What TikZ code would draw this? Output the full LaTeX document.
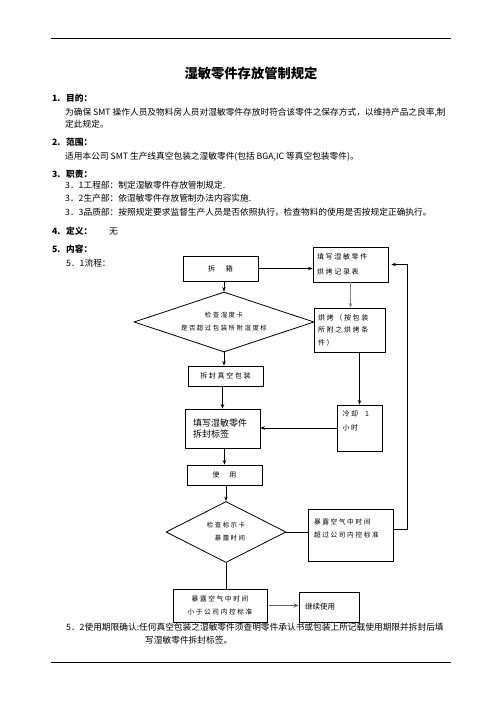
\documentclass[tikz,border=0pt]{standalone}
\usepackage{fontspec}
\setmainfont{Noto Sans CJK SC}
\newfontfamily\flowfont[LetterSpace=24]{Noto Sans CJK SC}
\newfontfamily\flowplain{Noto Sans CJK SC}
\usetikzlibrary{shapes.geometric,arrows.meta}
\begin{document}
\begin{tikzpicture}[x=1pt,y=-1pt,
  body/.style={anchor=base west,inner sep=0pt,font=\fontsize{8.7}{10}\selectfont},
  head/.style={anchor=base west,inner sep=0pt,font=\fontsize{8.7}{10}\selectfont\bfseries},
  fbox/.style={draw,line width=0.8pt,inner ysep=0pt,inner xsep=4pt,font=\flowfont\fontsize{7}{13}\selectfont},
  fdia/.style={draw,diamond,line width=0.8pt,inner sep=0pt,align=center,font=\flowfont\fontsize{6.4}{13}\selectfont},
  arr/.style={-{Stealth[length=4.5pt,width=3.5pt]},line width=0.8pt},
  ln/.style={line width=0.8pt},
  rule/.style={line width=0.9pt}]
\useasboundingbox (0,0) rectangle (496,702);
\fill[white] (0,0) rectangle (496,702);

% rules
\coordinate (r1a) at (51,38); \coordinate (r1b) at (451,38);
\coordinate (r2a) at (51,662); \coordinate (r2b) at (451,662);
\draw[rule] (r1a) -- (r1b);
\draw[rule] (r2a) -- (r2b);

% title
\node[inner sep=0pt,anchor=base,font=\fontsize{13.3}{15}\selectfont\bfseries] (title) at (251,78) {湿敏零件存放管制规定};

% body text
\node[head] (h1) at (52,101) {\makebox[14pt][l]{1.}目的：};
\node[body] (t1a) at (65,115) {为确保 SMT 操作人员及物料房人员对湿敏零件存放时符合该零件之保存方式，以维持产品之良率,制};
\node[body] (t1b) at (65,127.5) {定此规定。};
\node[head] (h2) at (52,145.5) {\makebox[14pt][l]{2.}范围：};
\node[body] (t2) at (65,159.5) {适用本公司 SMT 生产线真空包装之湿敏零件(包括 BGA,IC 等真空包装零件)。};
\node[head] (h3) at (52,177.5) {\makebox[14pt][l]{3.}职责：};
\node[body] (t31) at (65,188.5) {3．1工程部：制定湿敏零件存放管制规定.};
\node[body] (t32) at (65,201.5) {3．2生产部：依湿敏零件存放管制办法内容实施.};
\node[body] (t33) at (65,215.5) {3．3品质部：按照规定要求监督生产人员是否依照执行，检查物料的使用是否按规定正确执行。};
\node[head] (h4) at (52,234.5) {\makebox[14pt][l]{4.}定义：};
\node[body] (t4) at (109,234.5) {无};
\node[head] (h5) at (52,252.5) {\makebox[14pt][l]{5.}内容：};
\node[body] (t51) at (66,266.5) {5．1流程：};
\node[body] (t52a) at (66,630.5) {5．2使用期限确认:任何真空包装之湿敏零件须查明零件承认书或包装上所记载使用期限并拆封后填};
\node[body] (t52b) at (145,643.5) {写湿敏零件拆封标签。};

% flowchart nodes
\node[fbox,minimum width=75pt,minimum height=25pt] (n1) at (220.5,268.5) {拆\hspace{11pt}箱};
\node[fbox,text width=67pt,align=left,minimum height=35pt,font=\flowfont\fontsize{7}{15}\selectfont] (n2) at (350.5,264.5) {填写湿敏零件\\烘烤记录表};
\node[fdia,minimum width=180pt,minimum height=60pt,aspect=3] (d1) at (224,322) {检查湿度卡\\是否超过包装所附湿度标};
\node[fbox,text width=63pt,align=left,minimum height=44pt,font=\flowfont\fontsize{7}{12.5}\selectfont] (n3) at (349.5,330) {烘烤（按包装\\所附之烘烤条\\件）};
\node[fbox,minimum width=75pt,minimum height=20pt] (n4) at (225.5,376) {拆封真空包装};
\node[fbox,text width=59pt,inner xsep=8pt,align=left,minimum height=39pt,font=\flowplain\fontsize{9}{11}\selectfont] (n5) at (222.5,428.5) {填写湿敏零件\\拆封标签};
\node[fbox,text width=34pt,inner xsep=5.5pt,align=left,minimum height=46pt,font=\flowfont\fontsize{7}{14}\selectfont] (n6) at (359.5,428) {冷却\hspace{7pt}1\\小时\\\mbox{}};
\node[fbox,minimum width=75pt,minimum height=20pt] (n7) at (224.5,475) {使\hspace{10pt}用};
\node[fdia,minimum width=120pt,minimum height=61pt,aspect=2,align=right] (d2) at (226,532) {检查标示卡\\暴露时间};
\node[fbox,text width=73pt,inner xsep=6pt,align=left,minimum height=52pt,font=\flowfont\fontsize{6.7}{13}\selectfont] (n8) at (350.5,535) {暴露空气中时间\\超过公司内控标准\\\mbox{}};
\node[fbox,text width=86pt,align=center,minimum height=33pt,font=\flowfont\fontsize{6.7}{13}\selectfont] (n9) at (220,605.5) {暴露空气中时间\\小于公司内控标准};
\node[fbox,text width=48pt,inner xsep=6pt,align=left,minimum height=30pt,font=\flowplain\fontsize{7.5}{9}\selectfont] (n10) at (329,607) {继续使用};

% connectors
\draw[arr] (n1.east) -- (n1.east -| n2.west);
\draw[arr] (d1.north |- n1.south) -- (d1.north);
\draw[arr,draw=gray] (n2.south) -- (n2.south |- n3.north);
\draw[arr] (d1.south) -- (d1.south |- n4.north);
\draw[arr] (n6.north |- n3.south) -- (n6.north);
\draw[arr] (n5.north |- n4.south) -- (n5.north);
\draw[arr] (n6.west) -- (n6.west -| n5.east);
\draw[arr] (n7.north |- n5.south) -- (n7.north);
\draw[arr] (d2.north |- n7.south) -- (d2.north);
\draw[ln] (d2.east) -- (d2.east -| n8.west);
\coordinate (c1) at (407,529);
\draw[arr,shorten >=3pt] (n8.east |- c1) -- (c1) |- (n2.east);
\draw[ln] (d2.south) -- (d2.south |- n9.north);
\draw[-{Stealth[length=5pt,width=4.5pt]},line width=1.6pt,draw=gray!80!black,shorten <=2pt] (n9.east) -- (n9.east -| n10.west);
\end{tikzpicture}
\end{document}
